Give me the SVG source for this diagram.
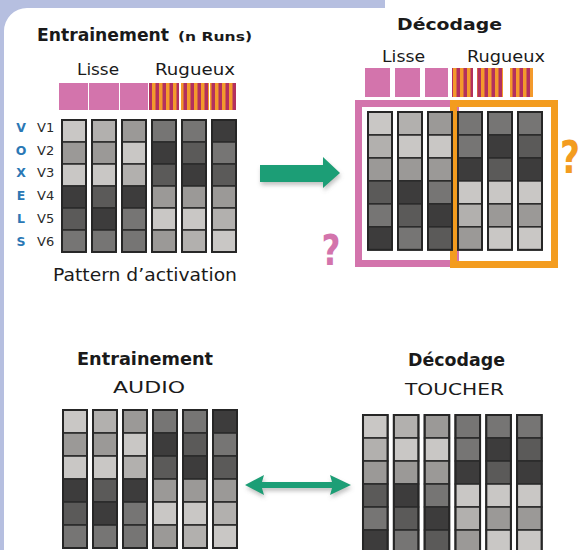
<svg xmlns="http://www.w3.org/2000/svg" xmlns:xlink="http://www.w3.org/1999/xlink" width="588" height="550" viewBox="0 0 588 550">
<style>
text{font-family:"DejaVu Sans","Liberation Sans",Arial,sans-serif;fill:#1a1a1a}
.b{font-weight:bold}
.vx{font-weight:bold;fill:#2b78b5;font-size:12.5px;text-anchor:middle}
.vn{font-size:13px;fill:#2a2a2a}
.c{stroke:#2b2b2b;stroke-width:1.6}
.col{fill:none;stroke:#262626;stroke-width:2}
.s1{fill:#c9c7c5}.s2{fill:#b2b0ae}.s3{fill:#9b9997}.s4{fill:#767574}.s5{fill:#5b5a59}.s6{fill:#3d3c3c}
.pk{fill:#d374ac}.st{fill:url(#stripes)}
.arr{fill:#1c9e76;filter:url(#sh)}
</style>
<defs>
<pattern id="stripes" x="0" y="0" width="7" height="10" patternUnits="userSpaceOnUse">
<rect width="7" height="10" fill="#f39a2c"/><rect x="1.5" width="3.5" height="10" fill="#b3305e"/>
</pattern>
<filter id="sh" x="-20%" y="-40%" width="140%" height="200%">
<feDropShadow dx="1" dy="3" stdDeviation="2" flood-color="#777" flood-opacity="0.45"/>
</filter>
<g id="gridA">
<g><rect class="c s1" x="0" y="0" width="24" height="23"/><rect class="c s3" x="0" y="23" width="24" height="23"/><rect class="c s1" x="0" y="46" width="24" height="23"/><rect class="c s6" x="0" y="69" width="24" height="23"/><rect class="c s5" x="0" y="92" width="24" height="23"/><rect class="c s4" x="0" y="115" width="24" height="23"/><rect class="col" x="0" y="0" width="24" height="138"/></g>
<g transform="translate(30,0)"><rect class="c s2" x="0" y="0" width="24" height="23"/><rect class="c s3" x="0" y="23" width="24" height="23"/><rect class="c s1" x="0" y="46" width="24" height="23"/><rect class="c s5" x="0" y="69" width="24" height="23"/><rect class="c s6" x="0" y="92" width="24" height="23"/><rect class="c s4" x="0" y="115" width="24" height="23"/><rect class="col" x="0" y="0" width="24" height="138"/></g>
<g transform="translate(60,0)"><rect class="c s3" x="0" y="0" width="24" height="23"/><rect class="c s1" x="0" y="23" width="24" height="23"/><rect class="c s2" x="0" y="46" width="24" height="23"/><rect class="c s6" x="0" y="69" width="24" height="23"/><rect class="c s4" x="0" y="92" width="24" height="23"/><rect class="c s4" x="0" y="115" width="24" height="23"/><rect class="col" x="0" y="0" width="24" height="138"/></g>
<g transform="translate(90,0)"><rect class="c s4" x="0" y="0" width="24" height="23"/><rect class="c s6" x="0" y="23" width="24" height="23"/><rect class="c s5" x="0" y="46" width="24" height="23"/><rect class="c s3" x="0" y="69" width="24" height="23"/><rect class="c s1" x="0" y="92" width="24" height="23"/><rect class="c s3" x="0" y="115" width="24" height="23"/><rect class="col" x="0" y="0" width="24" height="138"/></g>
<g transform="translate(120,0)"><rect class="c s4" x="0" y="0" width="24" height="23"/><rect class="c s5" x="0" y="23" width="24" height="23"/><rect class="c s6" x="0" y="46" width="24" height="23"/><rect class="c s3" x="0" y="69" width="24" height="23"/><rect class="c s1" x="0" y="92" width="24" height="23"/><rect class="c s2" x="0" y="115" width="24" height="23"/><rect class="col" x="0" y="0" width="24" height="138"/></g>
<g transform="translate(150,0)"><rect class="c s6" x="0" y="0" width="24" height="23"/><rect class="c s4" x="0" y="23" width="24" height="23"/><rect class="c s5" x="0" y="46" width="24" height="23"/><rect class="c s3" x="0" y="69" width="24" height="23"/><rect class="c s2" x="0" y="92" width="24" height="23"/><rect class="c s1" x="0" y="115" width="24" height="23"/><rect class="col" x="0" y="0" width="24" height="138"/></g>
</g>
<g id="gridB">
<g><rect class="c s1" x="0" y="0" width="24" height="23"/><rect class="c s2" x="0" y="23" width="24" height="23"/><rect class="c s3" x="0" y="46" width="24" height="23"/><rect class="c s5" x="0" y="69" width="24" height="23"/><rect class="c s4" x="0" y="92" width="24" height="23"/><rect class="c s6" x="0" y="115" width="24" height="23"/><rect class="col" x="0" y="0" width="24" height="138"/></g>
<g transform="translate(30,0)"><rect class="c s2" x="0" y="0" width="24" height="23"/><rect class="c s1" x="0" y="23" width="24" height="23"/><rect class="c s3" x="0" y="46" width="24" height="23"/><rect class="c s6" x="0" y="69" width="24" height="23"/><rect class="c s5" x="0" y="92" width="24" height="23"/><rect class="c s4" x="0" y="115" width="24" height="23"/><rect class="col" x="0" y="0" width="24" height="138"/></g>
<g transform="translate(60,0)"><rect class="c s3" x="0" y="0" width="24" height="23"/><rect class="c s1" x="0" y="23" width="24" height="23"/><rect class="c s3" x="0" y="46" width="24" height="23"/><rect class="c s4" x="0" y="69" width="24" height="23"/><rect class="c s6" x="0" y="92" width="24" height="23"/><rect class="c s5" x="0" y="115" width="24" height="23"/><rect class="col" x="0" y="0" width="24" height="138"/></g>
<g transform="translate(90,0)"><rect class="c s4" x="0" y="0" width="24" height="23"/><rect class="c s4" x="0" y="23" width="24" height="23"/><rect class="c s6" x="0" y="46" width="24" height="23"/><rect class="c s1" x="0" y="69" width="24" height="23"/><rect class="c s2" x="0" y="92" width="24" height="23"/><rect class="c s3" x="0" y="115" width="24" height="23"/><rect class="col" x="0" y="0" width="24" height="138"/></g>
<g transform="translate(120,0)"><rect class="c s4" x="0" y="0" width="24" height="23"/><rect class="c s6" x="0" y="23" width="24" height="23"/><rect class="c s5" x="0" y="46" width="24" height="23"/><rect class="c s1" x="0" y="69" width="24" height="23"/><rect class="c s3" x="0" y="92" width="24" height="23"/><rect class="c s1" x="0" y="115" width="24" height="23"/><rect class="col" x="0" y="0" width="24" height="138"/></g>
<g transform="translate(150,0)"><rect class="c s4" x="0" y="0" width="24" height="23"/><rect class="c s5" x="0" y="23" width="24" height="23"/><rect class="c s6" x="0" y="46" width="24" height="23"/><rect class="c s1" x="0" y="69" width="24" height="23"/><rect class="c s3" x="0" y="92" width="24" height="23"/><rect class="c s1" x="0" y="115" width="24" height="23"/><rect class="col" x="0" y="0" width="24" height="138"/></g>
</g>
</defs>

<rect width="588" height="550" fill="#ffffff"/>
<path d="M0 0H385V8H27A23 23 0 0 0 4 31V550H0Z" fill="#b6bfe0"/>

<g id="training-runs">
<text class="b" x="37" y="41" font-size="17" textLength="132" lengthAdjust="spacingAndGlyphs">Entrainement</text>
<text class="b" x="178" y="41" font-size="11.5" textLength="74" lengthAdjust="spacingAndGlyphs">(n Runs)</text>
<text x="77" y="75" font-size="16" textLength="42" lengthAdjust="spacingAndGlyphs">Lisse</text>
<text x="155" y="75" font-size="16" textLength="80" lengthAdjust="spacingAndGlyphs">Rugueux</text>
<rect class="pk" x="59" y="83" width="29" height="27"/>
<rect class="pk" x="89" y="83" width="30" height="27"/>
<rect class="pk" x="120" y="83" width="28" height="27"/>
<rect class="st" x="149" y="83" width="30" height="27"/>
<rect class="st" x="181" y="83" width="28" height="27"/>
<rect class="st" x="210" y="83" width="26" height="27"/>
<text class="vx" x="21" y="132">V</text>
<text class="vx" x="21" y="155">O</text>
<text class="vx" x="21" y="177">X</text>
<text class="vx" x="21" y="200">E</text>
<text class="vx" x="21" y="223">L</text>
<text class="vx" x="21" y="246">S</text>
<text class="vn" x="37" y="132">V1</text>
<text class="vn" x="37" y="155">V2</text>
<text class="vn" x="37" y="177">V3</text>
<text class="vn" x="37" y="200">V4</text>
<text class="vn" x="37" y="223">V5</text>
<text class="vn" x="37" y="246">V6</text>
<use xlink:href="#gridA" transform="translate(62,120) scale(1,0.9565)"/>
<text x="53" y="281" font-size="17.5" textLength="184" lengthAdjust="spacingAndGlyphs">Pattern d’activation</text>
</g>

<g id="decoding">
<text class="b" x="397" y="30" font-size="16.5" textLength="105" lengthAdjust="spacingAndGlyphs">Décodage</text>
<text x="382" y="62" font-size="16" textLength="43" lengthAdjust="spacingAndGlyphs">Lisse</text>
<text x="467" y="62" font-size="16" textLength="78" lengthAdjust="spacingAndGlyphs">Rugueux</text>
<rect class="pk" x="365" y="68" width="25" height="29"/>
<rect class="pk" x="395" y="68" width="25" height="29"/>
<rect class="pk" x="425" y="68" width="23" height="29"/>
<rect class="st" x="452" y="68" width="21" height="29"/>
<rect class="st" x="477" y="68" width="26" height="29"/>
<rect class="st" x="510" y="68" width="23" height="29"/>
<rect x="358.5" y="103.5" width="97" height="160" fill="none" stroke="#d374ac" stroke-width="7"/>
<rect x="453.5" y="103.5" width="101" height="161" fill="none" stroke="#f39c1f" stroke-width="7"/>
<use xlink:href="#gridB" transform="translate(368,112) scale(1,0.9986)"/>
<text class="b" x="331" y="265" font-size="42" text-anchor="middle" style="fill:#d374ac" textLength="19" lengthAdjust="spacingAndGlyphs">?</text>
<text class="b" x="570" y="173" font-size="44" text-anchor="middle" style="fill:#f39c1f" textLength="20" lengthAdjust="spacingAndGlyphs">?</text>
</g>

<g id="training-audio">
<text class="b" x="77" y="365" font-size="17.5" textLength="136" lengthAdjust="spacingAndGlyphs">Entrainement</text>
<text x="113" y="393" font-size="16.5" textLength="72" lengthAdjust="spacingAndGlyphs">AUDIO</text>
<use xlink:href="#gridA" transform="translate(63,410)"/>
</g>

<g id="decoding-touch">
<text class="b" x="408" y="366" font-size="17" textLength="97" lengthAdjust="spacingAndGlyphs">Décodage</text>
<text x="405" y="395" font-size="16.5" textLength="99" lengthAdjust="spacingAndGlyphs">TOUCHER</text>
<use xlink:href="#gridB" transform="translate(363,415) scale(1.027,1)"/>
</g>

<g id="connectors">
<polygon class="arr" points="260,165 323,165 323,157 340,173 323,188 323,182 260,182"/>
<polygon class="arr" points="245,485 264,475 262,482 332,482 330,475 351,485 330,495 332,488 262,488 264,495"/>
</g>
</svg>
